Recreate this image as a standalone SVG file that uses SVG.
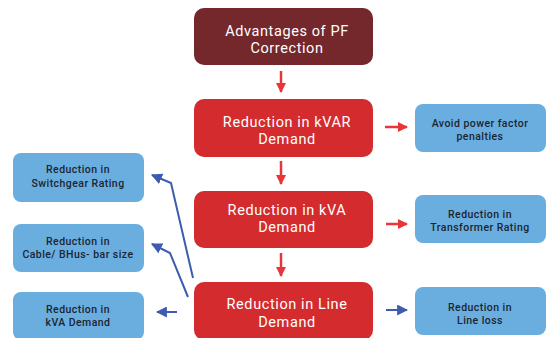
<svg xmlns="http://www.w3.org/2000/svg" width="547" height="338" viewBox="0 0 547 338">
<defs>
<marker id="ar" viewBox="0 0 10 10" refX="9" refY="5" markerWidth="10" markerHeight="10" markerUnits="userSpaceOnUse" orient="auto"><path d="M0,0 L10,5 L0,10 z" fill="#e8353a"/></marker>
<marker id="ab" viewBox="0 0 10 10" refX="9" refY="5" markerWidth="11" markerHeight="11" markerUnits="userSpaceOnUse" orient="auto"><path d="M0,0 L10,5 L0,10 z" fill="#3d5cb0"/></marker>
</defs>
<style>
.main{fill:#d42b2e}
.top{fill:#74282c}
.side{fill:#6aaee0}
.mt{font-family:Roboto,"Liberation Sans",sans-serif;font-size:14.5px;letter-spacing:0.6px;fill:#ffffff;text-anchor:middle}
.st{font-family:Roboto,"Liberation Sans",sans-serif;font-size:10.5px;font-weight:500;letter-spacing:0.45px;fill:#1d2430;text-anchor:middle}
.r{stroke:#e8353a;stroke-width:2.5;fill:none}
.b{stroke:#3d5cb0;stroke-width:2;fill:none}
</style>
<rect width="547" height="338" fill="#ffffff"/>
<g id="advantages"><rect class="top" x="194" y="8" width="179" height="57" rx="10"/><text class="mt" x="287" y="36">Advantages of PF</text><text class="mt" x="287" y="53">Correction</text></g>
<g id="kvar"><rect class="main" x="194" y="99" width="179" height="58" rx="10"/><text class="mt" x="287" y="127">Reduction in kVAR</text><text class="mt" x="287" y="144">Demand</text></g>
<g id="kva"><rect class="main" x="194" y="191" width="179" height="57" rx="10"/><text class="mt" x="287" y="215">Reduction in kVA</text><text class="mt" x="287" y="232">Demand</text></g>
<g id="line"><rect class="main" x="194" y="282" width="179" height="58" rx="10"/><text class="mt" x="287" y="309">Reduction in Line</text><text class="mt" x="287" y="327">Demand</text></g>
<g id="penalties"><rect class="side" x="415" y="104" width="131" height="48" rx="8"/><text class="st" x="480" y="127">Avoid power factor</text><text class="st" x="480" y="140">penalties</text></g>
<g id="transformer"><rect class="side" x="415" y="195" width="131" height="48" rx="8"/><text class="st" x="480" y="218">Reduction in</text><text class="st" x="480" y="231">Transformer Rating</text></g>
<g id="lineloss"><rect class="side" x="415" y="287" width="131" height="48" rx="8"/><text class="st" x="480" y="311">Reduction in</text><text class="st" x="480" y="324">Line loss</text></g>
<g id="switchgear"><rect class="side" x="13" y="153" width="131" height="49" rx="8"/><text class="st" x="78" y="173">Reduction in</text><text class="st" x="78" y="187">Switchgear Rating</text></g>
<g id="cable"><rect class="side" x="13" y="224" width="131" height="48" rx="8"/><text class="st" x="78" y="245">Reduction in</text><text class="st" x="78" y="258">Cable/ BHus- bar size</text></g>
<g id="kvademand"><rect class="side" x="13" y="292" width="131" height="48" rx="8"/><text class="st" x="78" y="313">Reduction in</text><text class="st" x="78" y="326">kVA Demand</text></g>
<g id="connectors">
<line class="r" x1="281" y1="71" x2="281" y2="92" marker-end="url(#ar)"/>
<line class="r" x1="281" y1="161" x2="281" y2="184" marker-end="url(#ar)"/>
<line class="r" x1="281" y1="253" x2="281" y2="276" marker-end="url(#ar)"/>
<line class="r" x1="385" y1="127" x2="407" y2="127" marker-end="url(#ar)"/>
<line class="r" x1="386" y1="224" x2="407" y2="224" marker-end="url(#ar)"/>
<line class="b" x1="386" y1="310" x2="407" y2="310" marker-end="url(#ab)"/>
<line class="b" x1="177" y1="312" x2="157" y2="312" marker-end="url(#ab)"/>
<polyline class="b" points="193,278 171,183 152,175" marker-end="url(#ab)"/>
<polyline class="b" points="188,297 170,253 152,244" marker-end="url(#ab)"/>
</g>
</svg>
